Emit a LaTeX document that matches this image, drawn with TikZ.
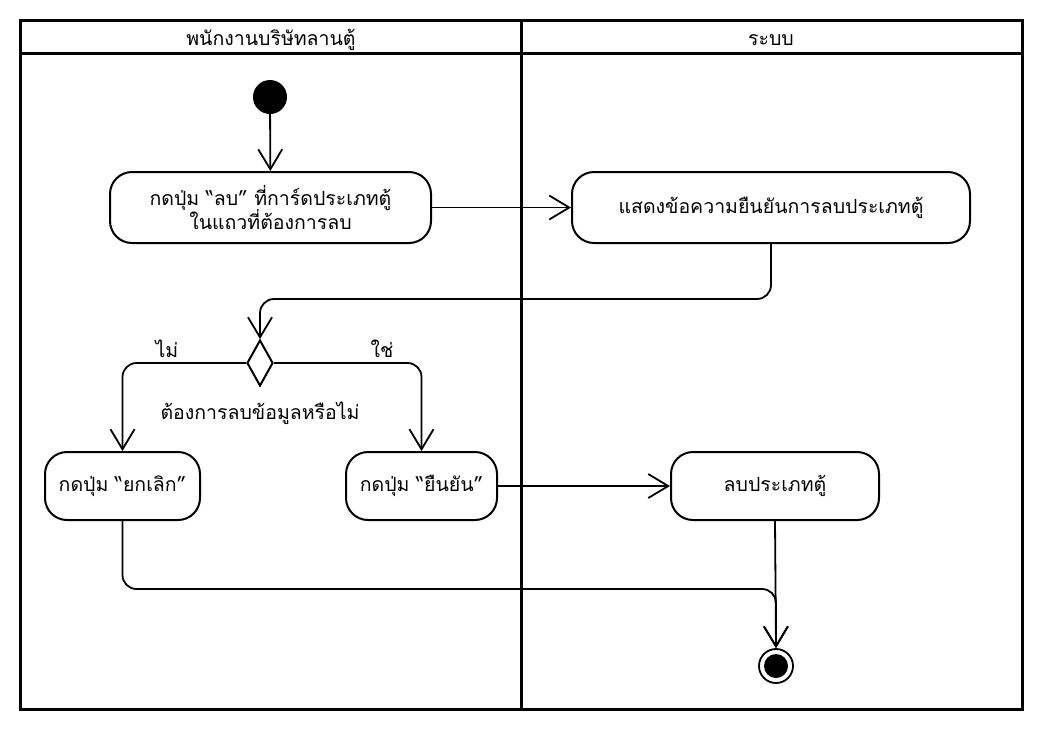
\documentclass[tikz,border=0pt]{standalone}
\usepackage{fontspec}
\newfontfamily\thaifont[Script=Thai]{Loma}
\usetikzlibrary{arrows.meta,shapes.geometric}
\begin{document}
\begin{tikzpicture}[x=1pt,y=-1pt,
  font=\thaifont\fontsize{19.5}{23}\selectfont,
  act/.style={draw,line width=2pt,rounded corners=22pt,align=center,inner sep=0pt},
  flow/.style={line width=1.8pt,rounded corners=14pt,
    -{Straight Barb[length=20pt,width=24pt,line width=1.8pt]}},
  lane/.style={line width=3pt},
  lbl/.style={inner sep=0pt}]
\useasboundingbox (0,0) rectangle (1049,740);

% swimlanes
\draw[lane] (20,20) rectangle (1022,709);
\draw[lane] (20,53) -- (1022,53);
\draw[lane] (521,20) -- (521,709);
\node[lbl] (h1) at (271,40) {พนักงานบริษัทลานตู้};
\node[lbl] (h2) at (771,40) {ระบบ};

% start / end
\node[circle,fill,minimum size=34pt,inner sep=0pt] (start) at (270,97) {};
\node[circle,draw,line width=1.8pt,minimum size=34pt,inner sep=0pt] (end) at (776,666) {};
\node[circle,fill,minimum size=24pt,inner sep=0pt] (endin) at (end) {};

% actions
\node[act,minimum width=321pt,minimum height=71pt] (a1) at (270.5,207.5)
  {กดปุ่ม “ลบ” ที่การ์ดประเภทตู้\\[-2pt]ในแถวที่ต้องการลบ};
\node[act,minimum width=398pt,minimum height=71pt] (a2) at (771,207.5)
  {แสดงข้อความยืนยันการลบประเภทตู้};
\node[act,minimum width=155pt,minimum height=68pt] (cancel) at (122.5,486)
  {กดปุ่ม “ยกเลิก”};
\node[act,minimum width=151pt,minimum height=68pt] (ok) at (421.5,486)
  {กดปุ่ม “ยืนยัน”};
\node[act,minimum width=208pt,minimum height=68pt] (del) at (775,486)
  {ลบประเภทตู้};

% decision
\node[diamond,draw,line width=2pt,minimum width=26pt,minimum height=46pt,
  inner sep=0pt] (dec) at (260,363) {};
\node[lbl] (no) at (167,349) {ไม่};
\node[lbl] (yes) at (382,349) {ใช่};
\node[lbl] (q) at (260,413) {ต้องการลบข้อมูลหรือไม่};

% flows
\draw[flow] (start) -- (a1);
\draw[flow] (a1) -- (a2);
\draw[flow] (a2.south) -- ++(0,55) -| (dec.north);
\draw[flow] (dec.west) -| (cancel.north);
\draw[flow] (dec.east) -| (ok.north);
\draw[flow] (ok) -- (del);
\draw[flow] (del.south) -- (end.north);
\draw[flow] (cancel.south) -- ++(0,68) -| (end.north);
\end{tikzpicture}
\end{document}
